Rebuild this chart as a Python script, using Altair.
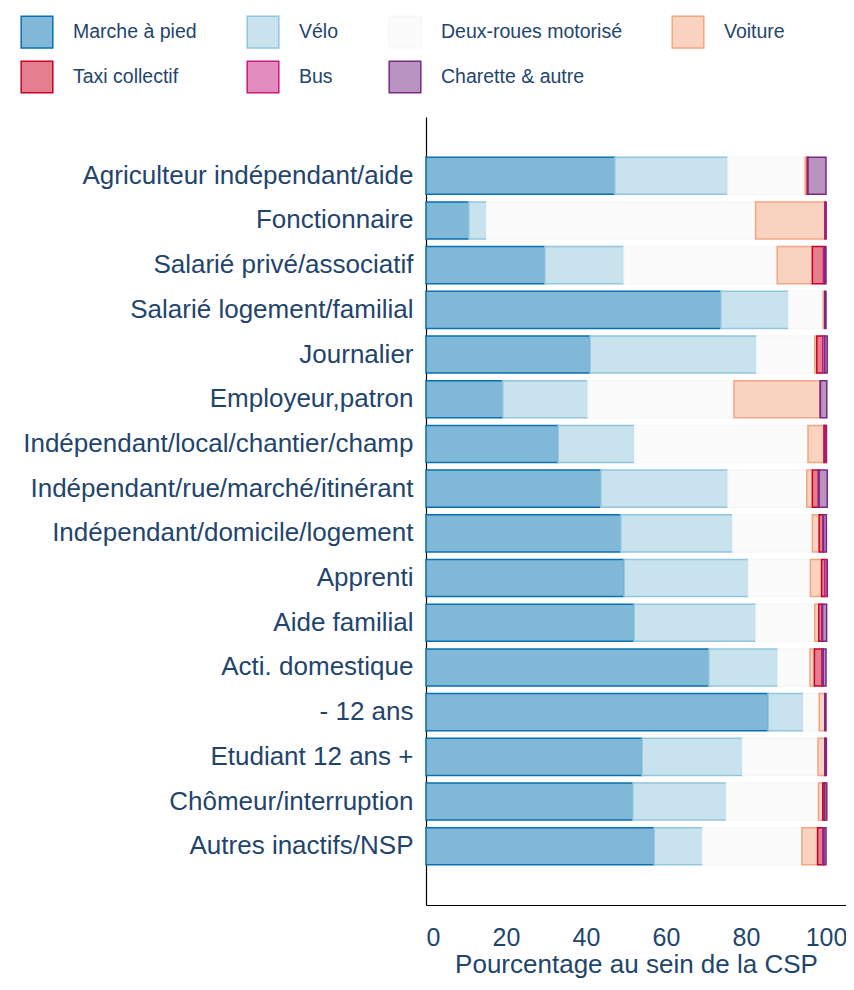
import altair as alt
import pandas as pd

categories = [
    "Agriculteur indépendant/aide",
    "Fonctionnaire",
    "Salarié privé/associatif",
    "Salarié logement/familial",
    "Journalier",
    "Employeur,patron",
    "Indépendant/local/chantier/champ",
    "Indépendant/rue/marché/itinérant",
    "Indépendant/domicile/logement",
    "Apprenti",
    "Aide familial",
    "Acti. domestique",
    "- 12 ans",
    "Etudiant 12 ans +",
    "Chômeur/interruption",
    "Autres inactifs/NSP",
]

modes = ["Marche à pied", "Vélo", "Deux-roues motorisé", "Voiture",
         "Taxi collectif", "Bus", "Charette & autre"]

marche = [47.2, 10.7, 29.7, 73.7, 41.0, 19.2, 33.0, 43.7, 48.7, 49.5, 52.0, 70.7, 85.5, 54.0, 51.7, 57.0]
velo = [28.3, 4.5, 19.8, 17.0, 41.7, 21.3, 19.2, 31.8, 28.0, 31.1, 30.5, 17.3, 8.9, 25.2, 23.4, 12.2]
deux_roues = [19.3, 67.2, 38.3, 8.6, 14.5, 36.5, 43.3, 19.7, 19.9, 15.5, 14.7, 8.0, 3.9, 18.8, 23.0, 24.8]
voiture = [0.5, 17.3, 8.8, 0.4, 0.5, 21.6, 4.0, 1.4, 1.7, 2.8, 1.0, 1.1, 1.4, 1.7, 1.1, 3.9]
taxi = [0.2, 0.0, 2.8, 0.0, 1.5, 0.0, 0.3, 1.5, 0.9, 0.8, 0.75, 1.9, 0.0, 0.0, 0.3, 1.3]
bus = [0.0, 0.3, 0.3, 0.0, 0.5, 0.0, 0.3, 0.2, 0.2, 0.6, 0.2, 0.3, 0.0, 0.1, 0.2, 0.3]
charette = [4.5, 0.0, 0.3, 0.3, 0.6, 1.6, 0.0, 2.0, 0.7, 0.0, 1.0, 0.7, 0.3, 0.3, 0.5, 0.5]

series = [marche, velo, deux_roues, voiture, taxi, bus, charette]

fill_colors = ["#82b8d7", "#c8e2ee", "#fbfbfb", "#f9d2c0", "#e47f8f", "#e28dbe", "#ba94c1"]
stroke_colors = ["#0571b0", "#92c5de", "#f7f7f7", "#f4a582", "#ca0020", "#c51b7d", "#762a83"]

rows = []
for j, m in enumerate(modes):
    for i, c in enumerate(categories):
        rows.append({"csp": c, "mode": m, "pct": series[j][i], "k": j})
df = pd.DataFrame(rows)

TXT = "#1f456d"

legend = alt.Legend(
    title=None, orient="none", legendX=-406, legendY=-102, direction="horizontal",
    columns=4, columnPadding=47, rowPadding=7,
    symbolType="square", symbolSize=1000, symbolStrokeWidth=1.5,
    labelFontSize=19.5, labelOffset=19, labelColor=TXT, labelLimit=400,
)

chart = alt.Chart(df).mark_bar(strokeWidth=1.5).encode(
    y=alt.Y("csp:N", sort=categories,
            scale=alt.Scale(paddingInner=0.17, paddingOuter=0.9),
            axis=alt.Axis(title=None, ticks=False, labelFontSize=26, labelPadding=13,
                          labelColor=TXT, domainColor="black", domainWidth=1.2,
                          labelLimit=500)),
    x=alt.X("pct:Q", stack="zero",
            scale=alt.Scale(domain=[0, 105], nice=False, zero=True),
            axis=alt.Axis(values=[0, 20, 40, 60, 80, 100], title="Pourcentage au sein de la CSP",
                          ticks=False, grid=False, labelPadding=20, labelFontSize=25,
                          labelColor=TXT, titleColor=TXT, titleFontSize=26,
                          titleFontWeight="normal", titlePadding=1,
                          domainColor="black", domainWidth=1.2)),
    fill=alt.Fill("mode:N", scale=alt.Scale(domain=modes, range=fill_colors), legend=legend),
    stroke=alt.Stroke("mode:N", scale=alt.Scale(domain=modes, range=stroke_colors), legend=legend),
    order=alt.Order("k:Q"),
).properties(
    width=420, height=788,
    autosize=alt.AutoSizeParams(type="none"),
    padding={"left": 418, "top": 109, "right": 0, "bottom": 75},
).configure(
    font="Liberation Sans"
).configure_view(
    stroke=None
)

chart.save("out.html", embed_options={"renderer": "svg", "actions": False})
